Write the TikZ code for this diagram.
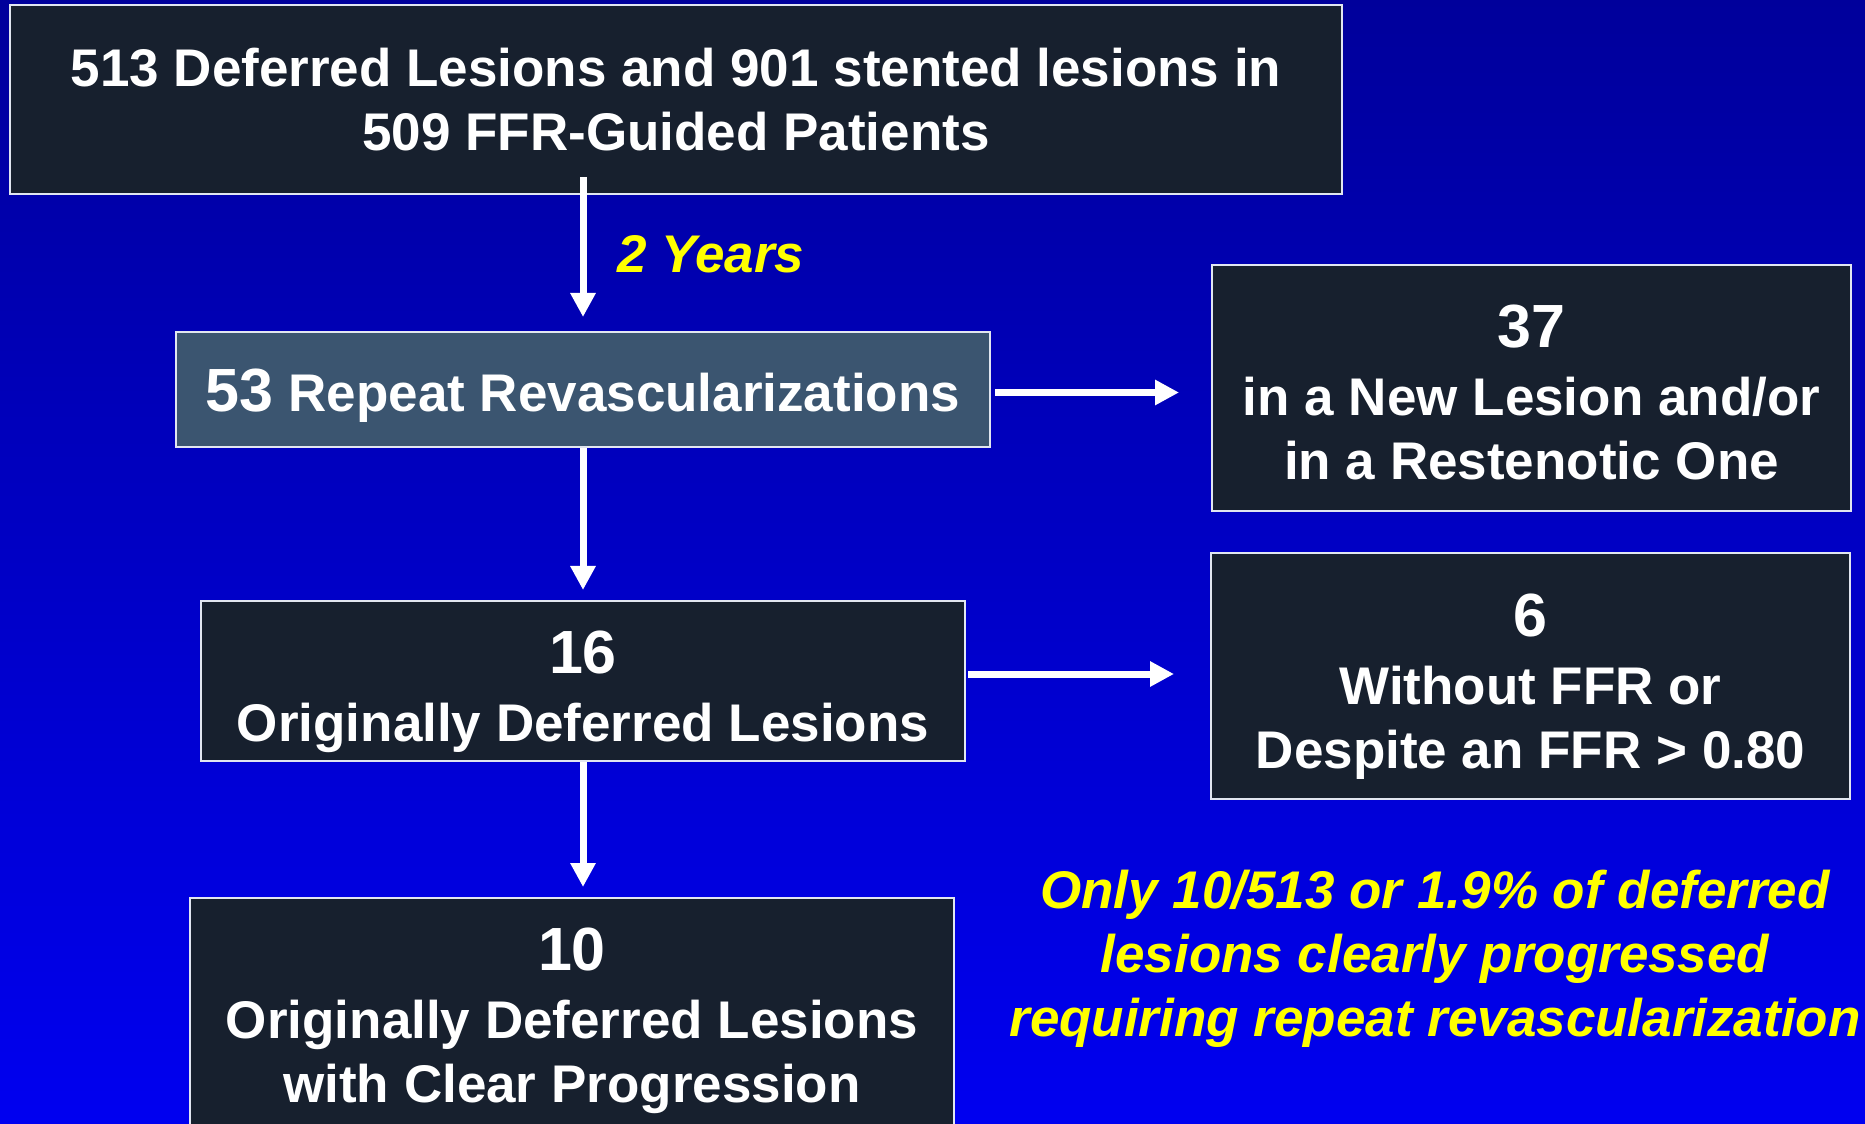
\documentclass[tikz,border=0pt]{standalone}
\usepackage{fontspec}
\setmainfont{Liberation Sans}
\usepackage{xcolor}
\usepackage{tikz}
\usetikzlibrary{arrows.meta,calc}
\definecolor{bgtop}{RGB}{0,0,155}
\definecolor{bgbot}{RGB}{0,0,240}
\definecolor{boxfill}{RGB}{23,32,46}
\definecolor{repfill}{RGB}{59,85,112}
\definecolor{boxline}{RGB}{225,230,240}
\definecolor{noteyellow}{RGB}{255,255,0}
\newcommand{\bignum}[1]{{\fontsize{24.4}{25.6}\selectfont #1}}
\newcommand{\padtop}[1]{\rule{0pt}{#1}}

\begin{document}
\begin{tikzpicture}[
  x=0.4pt, y=-0.4pt,
  box/.style={draw=boxline, line width=0.8pt, fill=boxfill, text=white,
              align=center, inner sep=0pt,
              font=\fontsize{21.2}{25.6}\selectfont\bfseries},
  arr/.style={-{Triangle[width=9.6pt,length=9.6pt]}, line width=2.8pt, color=white},
  note/.style={text=noteyellow, align=center, inner sep=0pt,
               font=\fontsize{21.2}{25.6}\selectfont\bfseries\itshape}
]
  \useasboundingbox (0,0) rectangle (1865,1124);
  \shade[top color=bgtop, bottom color=bgbot] (0,0) rectangle (1865,1124);

  \node[box, minimum width=532.8pt, minimum height=75.6pt] (top) at (676,99.5)
    {513 Deferred Lesions and 901 stented lesions in\\509 FFR-Guided Patients};
  \node[box, fill=repfill, minimum width=325.6pt, minimum height=46pt] (rep) at (583,389.5)
    {\padtop{22.3pt}\bignum{53} Repeat Revascularizations};
  \node[box, minimum width=255.6pt, minimum height=98.4pt] (new) at (1531.5,388)
    {\padtop{20.7pt}\bignum{37}\\[1.6pt]in a New Lesion and/or\\in a Restenotic One};
  \node[box, minimum width=305.6pt, minimum height=64pt] (orig) at (583,681)
    {\padtop{25.5pt}\bignum{16}\\[1.6pt]Originally Deferred Lesions};
  \node[box, minimum width=255.6pt, minimum height=98.4pt] (noffr) at (1530.5,676)
    {\padtop{25.5pt}\bignum{6}\\[1.6pt]Without FFR or\\Despite an FFR > 0.80};
  \node[box, minimum width=305.6pt, minimum height=98.4pt] (prog) at (572,1021)
    {\bignum{10}\\[1.6pt]Originally Deferred Lesions\\with Clear Progression};
  \node[note] (only) at (1435,959)
    {Only 10/513 or 1.9\% of deferred\\lesions clearly progressed\\requiring repeat revascularization};

  \draw[arr, shorten >=5.6pt] ([yshift=7.2pt]top.south -| rep.north) -- (rep.north)
    node[midway, note, anchor=west, xshift=12.4pt] (yrs) {2 Years};
  \draw[arr, shorten >=4pt] (rep.south) -- (rep.south |- orig.north);
  \draw[arr, shorten >=4pt] (orig.south) -- (orig.south |- prog.north);
  \draw[arr, shorten <=1.6pt, shorten >=12.8pt] ([yshift=-1.2pt]rep.east) -- ([yshift=-1.2pt]rep.east -| new.west);
  \draw[arr, shorten <=0.8pt, shorten >=14.4pt] ([yshift=2.8pt]orig.east) -- ([yshift=2.8pt]orig.east -| noffr.west);
\end{tikzpicture}
\end{document}
